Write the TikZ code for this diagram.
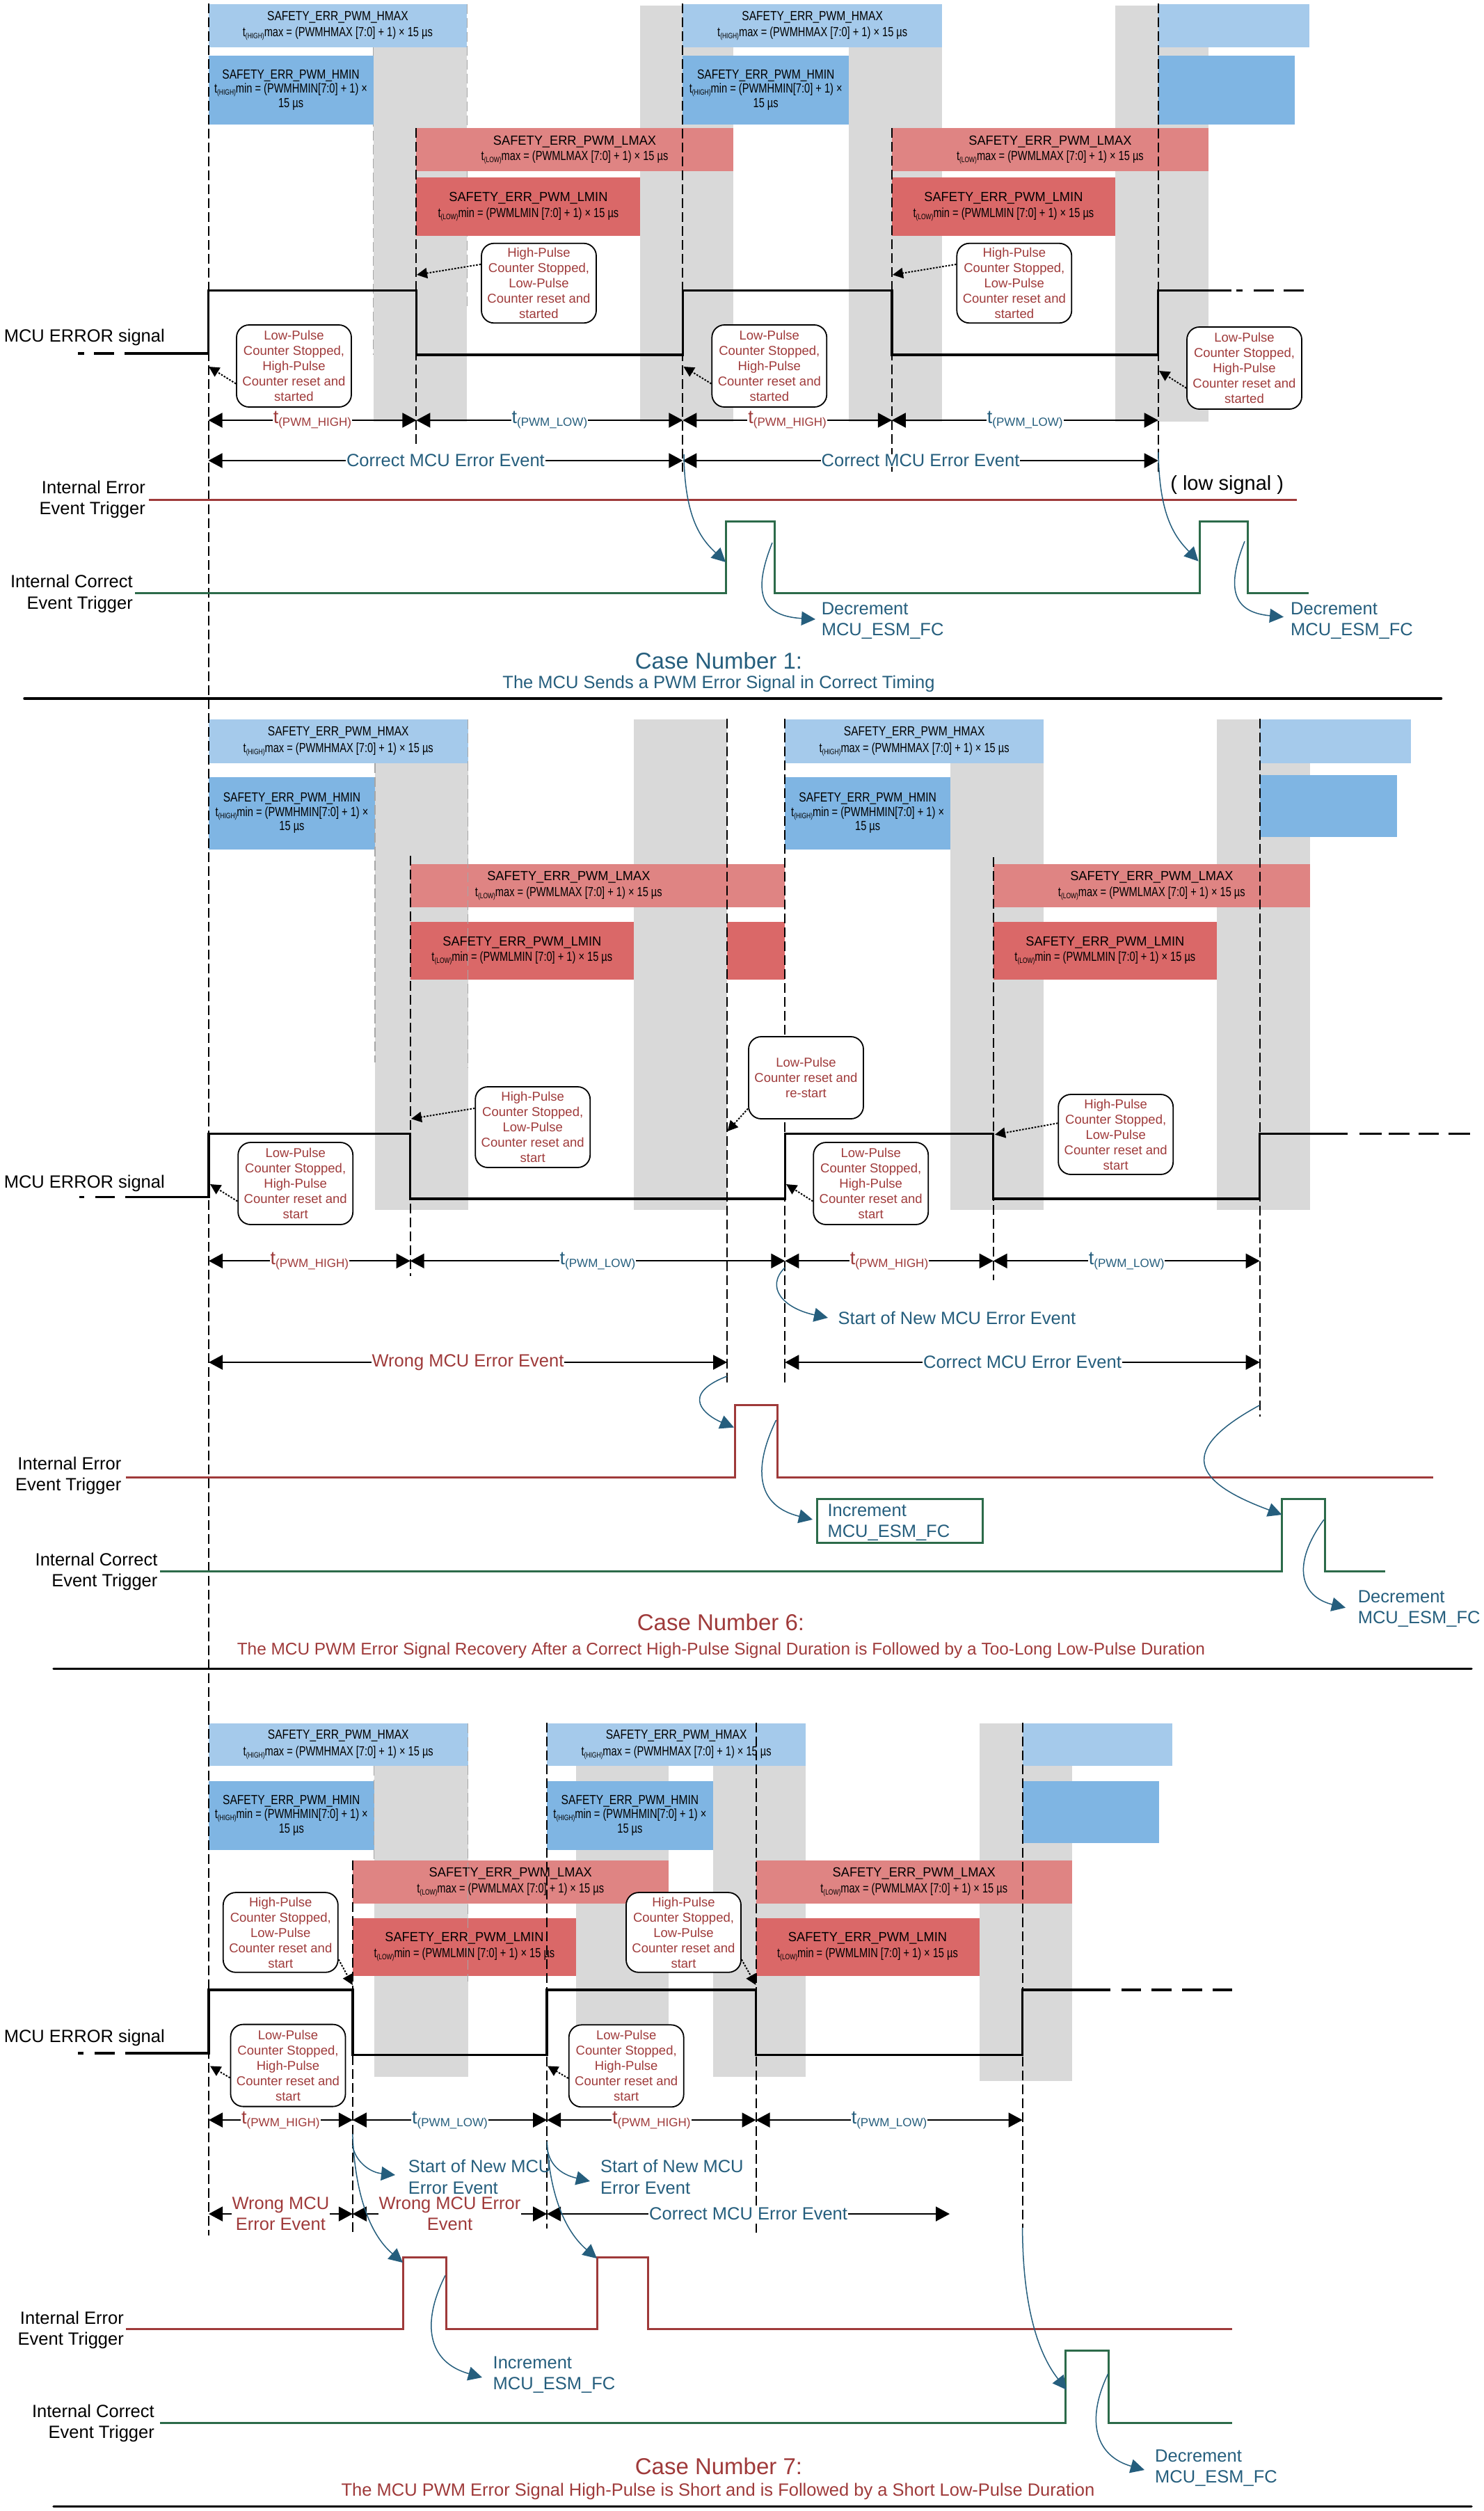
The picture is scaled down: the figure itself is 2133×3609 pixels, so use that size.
\documentclass[tikz,border=0pt]{standalone}
\usepackage{fontspec}
\setmainfont{Liberation Sans}
\newfontfamily\boxfont[FakeStretch=0.82]{Liberation Sans}
\newfontfamily\lowfont[FakeStretch=0.96]{Liberation Sans}
\newfontfamily\formfont[FakeStretch=0.77]{Liberation Sans}
\usetikzlibrary{arrows.meta}
\definecolor{mcured}{HTML}{9F3A3A}
\definecolor{mcublue}{HTML}{255E7D}
\definecolor{mcugreen}{HTML}{2C6B4A}
\definecolor{bandgray}{HTML}{D9D9D9}
\definecolor{hmaxblue}{HTML}{A5CAEB}
\definecolor{hminblue}{HTML}{7FB5E3}
\definecolor{lmaxred}{HTML}{DF8483}
\definecolor{lminred}{HTML}{DA6868}
\newcommand{\subt}[1]{t\lower3pt\hbox{\fontsize{11}{11}\selectfont(#1)}}
\newcommand{\pwmt}[1]{{\fontsize{27}{27}\selectfont t}\lower4pt\hbox{(#1)}}

\begin{document}
\begin{tikzpicture}[x=1pt,y=-1pt,
    band/.style={fill=bandgray},
    edgedash/.style={gray!70,line width=1.5pt,dash pattern=on 14pt off 6pt},
    hmaxbox/.style={fill=hmaxblue},
    hminbox/.style={fill=hminblue},
    lmaxbox/.style={fill=lmaxred},
    lminbox/.style={fill=lminred},
    hmaxtext/.style={align=center,font=\boxfont\fontsize{19}{23.5}\selectfont,inner sep=0pt},
    hmintext/.style={align=center,font=\boxfont\fontsize{19}{20.5}\selectfont,inner sep=0pt},
    lowtext/.style={align=center,font=\lowfont\fontsize{19}{22.4}\selectfont,inner sep=0pt},
    edgeline/.style={line width=2pt,dash pattern=on 14pt off 6pt},
    sigline/.style={line width=3.5pt,line join=miter},
    errline/.style={mcured,line width=3pt,line join=miter},
    okline/.style={mcugreen,line width=3pt,line join=miter},
    notebox/.style={draw=black,fill=white,rounded corners=18pt,line width=1.8pt,minimum width=165pt,minimum height=118pt,inner sep=0pt,align=center,text=mcured,font=\fontsize{18.5}{22}\selectfont},
    noteline/.style={-{Triangle[length=15pt,width=15pt]},line width=2pt,dash pattern=on 2.5pt off 2pt},
    dimline/.style={{Triangle[length=20pt,width=21pt]}-{Triangle[length=20pt,width=21pt]},line width=2pt},
    highlabel/.style={fill=white,inner xsep=1pt,inner ysep=0pt,text=mcured,font=\fontsize{17}{17}\selectfont},
    lowlabel/.style={fill=white,inner xsep=1pt,inner ysep=0pt,text=mcublue,font=\fontsize{17}{17}\selectfont},
    oklabel/.style={fill=white,inner xsep=1pt,inner ysep=0pt,text=mcublue,font=\fontsize{25.5}{30}\selectfont},
    wronglabel/.style={fill=white,inner xsep=1pt,inner ysep=0pt,align=center,text=mcured,font=\fontsize{25.5}{30}\selectfont},
    flowarrow/.style={mcublue,line width=1.5pt,-{Triangle[length=20pt,width=20pt]}},
    sideword/.style={font=\fontsize{25.5}{26}\selectfont,inner sep=0pt,align=right,anchor=east},
    flowword/.style={text=mcublue,font=\fontsize{25.5}{26}\selectfont,inner sep=0pt,align=left,anchor=west},
    casetitle/.style={font=\fontsize{33}{33}\selectfont,inner sep=0pt},
    casenote/.style={font=\fontsize{25.5}{26}\selectfont,inner sep=0pt},
    rulerline/.style={line width=3.5pt,line cap=round}]
    \useasboundingbox (0,0) rectangle (2133,3609);
    \def\hmaxword{SAFETY\_ERR\_PWM\_HMAX\\{\formfont\subt{HIGH}max = (PWMHMAX [7:0] + 1) × 15 µs}}
    \def\hminword{SAFETY\_ERR\_PWM\_HMIN\\{\formfont\subt{HIGH}min = (PWMHMIN[7:0] + 1) ×}\\{\formfont 15 µs}}
    \def\lmaxword{SAFETY\_ERR\_PWM\_LMAX\\{\formfont\subt{LOW}max = (PWMLMAX [7:0] + 1) × 15 µs}}
    \def\lminword{SAFETY\_ERR\_PWM\_LMIN\\{\formfont\subt{LOW}min = (PWMLMIN [7:0] + 1) × 15 µs}}
    \def\lowstarted{Low-Pulse\\Counter Stopped,\\High-Pulse\\Counter reset and\\started}
    \def\highstarted{High-Pulse\\Counter Stopped,\\Low-Pulse\\Counter reset and\\started}
    \def\lowstart{Low-Pulse\\Counter Stopped,\\High-Pulse\\Counter reset and\\start}
    \def\highstart{High-Pulse\\Counter Stopped,\\Low-Pulse\\Counter reset and\\start}
    \def\okword{Correct MCU Error Event}
    \def\xaa{299.5} \def\xab{598.4} \def\xac{981.4} \def\xad{1281.8} \def\xae{1664.7}
    \def\xba{300} \def\xbb{589.7} \def\xbc{1045} \def\xbd{1128.3} \def\xbe{1427.7} \def\xbf{1810.7}
    \def\xca{300} \def\xcb{506.8} \def\xcc{786.2} \def\xcd{1086.5} \def\xce{1469.6}

    \foreach \u/\v in {536.6/671.3,920.4/1053.7,1220/1354,1603/1737} \fill[band] (\u,8) rectangle (\v,606);
    \foreach \u/\v in {539/672.5,911/1045,1366/1500,1749/1883} \fill[band] (\u,1034) rectangle (\v,1739);
    \foreach \u/\v/\w in {537.6/672.5/2985,828/960.8/2985,1024.6/1158/2985,1407.5/1541/2991} \fill[band] (\u,2477) rectangle (\v,\w);
    \draw[edgedash] (536.6,68) -- (536.6,510);
    \draw[edgedash] (671.3,6) -- (671.3,446);

    \fill[hmaxbox] (\xaa,6) rectangle (671.3,68) node[midway,hmaxtext] (hmaxaa) {\hmaxword};
    \fill[hminbox] (\xaa,79.5) rectangle (536.6,179) node[midway,hmintext] (hminaa) {\hminword};
    \fill[lmaxbox] (\xab,184) rectangle (1053.7,246.4) node[midway,lowtext] (lmaxaa) {\lmaxword};
    \fill[lminbox] (\xab,255) rectangle (920.4,339) node[midway,lowtext] (lminaa) {\lminword};
    \fill[hmaxbox] (\xac,6) rectangle (1354,68) node[midway,hmaxtext] (hmaxab) {\hmaxword};
    \fill[hminbox] (\xac,79.5) rectangle (1220,179) node[midway,hmintext] (hminab) {\hminword};
    \fill[lmaxbox] (\xad,184) rectangle (1737,246.4) node[midway,lowtext] (lmaxab) {\lmaxword};
    \fill[lminbox] (\xad,255) rectangle (1603,339) node[midway,lowtext] (lminab) {\lminword};
    \fill[hmaxbox] (\xae,6) rectangle (1882,68);
    \fill[hminbox] (\xae,79.5) rectangle (1861,179);

    \fill[hmaxbox] (\xba,1034) rectangle (672.5,1096.5) node[midway,hmaxtext] (hmaxba) {\hmaxword};
    \fill[hminbox] (\xba,1117) rectangle (539,1220.5) node[midway,hmintext] (hminba) {\hminword};
    \fill[lmaxbox] (\xbb,1242) rectangle (\xbc,1304) node[midway,lowtext] (lmaxba) {\lmaxword};
    \fill[lmaxbox] (\xbc,1242) rectangle (\xbd,1304);
    \fill[lminbox] (\xbb,1324.6) rectangle (911,1408) node[midway,lowtext] (lminba) {\lminword};
    \fill[lminbox] (\xbc,1324.6) rectangle (\xbd,1408);
    \fill[hmaxbox] (\xbd,1034) rectangle (1500,1096.5) node[midway,hmaxtext] (hmaxbb) {\hmaxword};
    \fill[hminbox] (\xbd,1117) rectangle (1366,1220.5) node[midway,hmintext] (hminbb) {\hminword};
    \fill[lmaxbox] (\xbe,1242) rectangle (1883,1304) node[midway,lowtext] (lmaxbb) {\lmaxword};
    \fill[lminbox] (\xbe,1324.6) rectangle (1749,1408) node[midway,lowtext] (lminbb) {\lminword};
    \fill[hmaxbox] (\xbf,1034) rectangle (2028,1096.5);
    \fill[hminbox] (\xbf,1114) rectangle (2008,1203);

    \fill[hmaxbox] (\xca,2477) rectangle (672.5,2538.4) node[midway,hmaxtext] (hmaxca) {\hmaxword};
    \fill[hminbox] (\xca,2559.6) rectangle (537.6,2659) node[midway,hmintext] (hminca) {\hminword};
    \fill[lmaxbox] (\xcb,2674) rectangle (960.8,2736) node[midway,lowtext] (lmaxca) {\lmaxword};
    \fill[lminbox] (\xcb,2756.7) rectangle (828,2839.6) node[midway,lowtext] (lminca) {\lminword};
    \fill[hmaxbox] (\xcc,2477) rectangle (1158,2538.4) node[midway,hmaxtext] (hmaxcb) {\hmaxword};
    \fill[hminbox] (\xcc,2559.6) rectangle (1024.6,2659) node[midway,hmintext] (hmincb) {\hminword};
    \fill[lmaxbox] (\xcd,2674) rectangle (1541,2736) node[midway,lowtext] (lmaxcb) {\lmaxword};
    \fill[lminbox] (\xcd,2756.7) rectangle (1407.5,2839.6) node[midway,lowtext] (lmincb) {\lminword};
    \fill[hmaxbox] (\xce,2477) rectangle (1685,2538.4);
    \fill[hminbox] (\xce,2559.6) rectangle (1666,2649);

    \draw[edgedash] (539,1096.5) -- (539,1527);
    \draw[edgedash] (672.5,1034) -- (672.5,1535);
    \draw[edgedash] (537.6,2538) -- (537.6,2674);
    \draw[edgedash] (672.5,2477) -- (672.5,2848);

    \draw[edgeline] (\xaa,5) -- (\xaa,3213.4);
    \draw[edgeline] (\xab,184) -- (\xab,641.7);
    \draw[edgeline] (\xac,5) -- (\xac,678);
    \draw[edgeline] (\xad,184) -- (\xad,680);
    \draw[edgeline] (\xae,5) -- (\xae,678);
    \draw[edgeline] (\xbb,1230) -- (\xbb,1834);
    \draw[edgeline] (\xbc,1033) -- (\xbc,1989);
    \draw[edgeline] (\xbd,1033) -- (\xbd,1989);
    \draw[edgeline] (\xbe,1232) -- (\xbe,1840);
    \draw[edgeline] (\xbf,1033) -- (\xbf,2036);
    \draw[edgeline] (\xcb,2673.5) -- (\xcb,3213.4);
    \draw[edgeline] (\xcc,2476) -- (\xcc,3203);
    \draw[edgeline] (\xcd,2476) -- (\xcd,3209.4);
    \draw[edgeline] (\xce,2476) -- (\xce,3201.5);

    \draw[sigline] (112,508) -- (121,508) (135,508) -- (164,508);
    \draw[sigline] (179,508) -- (\xaa,508) -- (\xaa,417.4) -- (\xab,417.4) -- (\xab,510) -- (\xac,510) -- (\xac,417.4) -- (\xad,417.4) -- (\xad,510) -- (\xae,510) -- (\xae,417.4) -- (1769.5,417.4);
    \draw[sigline] (1777,417.4) -- (1786,417.4) (1802,417.4) -- (1831,417.4) (1845,417.4) -- (1874,417.4);
    \draw[sigline] (113.7,1720.5) -- (121,1720.5) (137,1720.5) -- (165,1720.5);
    \draw[sigline] (180,1720.5) -- (\xba,1720.5) -- (\xba,1629.7) -- (\xbb,1629.7) -- (\xbb,1723) -- (\xbd,1723) -- (\xbd,1629.7) -- (\xbe,1629.7) -- (\xbe,1723) -- (\xbf,1723) -- (\xbf,1629.7) -- (1937,1629.7);
    \draw[sigline] (1954,1629.7) -- (1986,1629.7) (1996,1629.7) -- (2026,1629.7) (2039,1629.7) -- (2068,1629.7) (2082,1629.7) -- (2113,1629.7);
    \draw[sigline] (112,2951) -- (120,2951) (136,2951) -- (165,2951);
    \draw[sigline] (180,2951) -- (\xca,2951) -- (\xca,2860) -- (\xcb,2860) -- (\xcb,2953.5) -- (\xcc,2953.5) -- (\xcc,2860) -- (\xcd,2860) -- (\xcd,2953.5) -- (\xce,2953.5) -- (\xce,2860) -- (1596,2860);
    \draw[sigline] (1612,2860) -- (1640,2860) (1655,2860) -- (1683.5,2860) (1699,2860) -- (1728,2860) (1743,2860) -- (1771,2860);

    \draw[errline] (214,718) -- (1864,718);
    \draw[okline] (194,852.7) -- (1043.8,852.7) -- (1043.8,749) -- (1113.4,749) -- (1113.4,852.7) -- (1724,852.7) -- (1724,749) -- (1793.3,749) -- (1793.3,852.7) -- (1880.8,852.7);
    \draw[errline] (181,2123) -- (1056,2123) -- (1056,2019.6) -- (1117.8,2019.6) -- (1117.8,2123) -- (2060,2123);
    \draw[okline] (230,2258.4) -- (1842.5,2258.4) -- (1842.5,2154.4) -- (1904.6,2154.4) -- (1904.6,2258.4) -- (1991.3,2258.4);
    \draw[errline] (181,3347.7) -- (579.4,3347.7) -- (579.4,3244) -- (641.7,3244) -- (641.7,3347.7) -- (858.8,3347.7) -- (858.8,3244) -- (931.4,3244) -- (931.4,3347.7) -- (1771,3347.7);
    \draw[okline] (230,3482.7) -- (1531.8,3482.7) -- (1531.8,3378.5) -- (1593,3378.5) -- (1593,3482.7) -- (1771,3482.7);

    \node[notebox] (lowaa) at (422.5,526) {\lowstarted};
    \node[notebox,minimum height=114.5pt] (highaa) at (774.5,407) {\highstarted};
    \node[notebox] (lowab) at (1105.8,526) {\lowstarted};
    \node[notebox,minimum height=114.5pt] (highab) at (1457.8,407) {\highstarted};
    \node[notebox] (lowac) at (1788.5,529) {\lowstarted};
    \node[notebox] (lowba) at (424.7,1701) {\lowstart};
    \node[notebox,minimum height=116pt] (highba) at (765.7,1620) {\highstart};
    \node[notebox] (resetbb) at (1158.5,1549) {Low-Pulse\\Counter reset and\\re-start};
    \node[notebox] (lowbb) at (1251.7,1701) {\lowstart};
    \node[notebox,minimum height=115pt] (highbb) at (1603.7,1630.5) {\highstart};
    \node[notebox,minimum height=114.7pt] (highca) at (403.3,2777.4) {\highstart};
    \node[notebox] (lowca) at (414,2968.6) {\lowstart};
    \node[notebox,minimum height=114.7pt] (highcb) at (982.5,2777.4) {\highstart};
    \node[notebox] (lowcb) at (900.2,2969.3) {\lowstart};

    \coordinate (tiplaa) at (300,527); \draw[noteline] (lowaa.197) -- (tiplaa);
    \coordinate (tiphaa) at (599,395); \draw[noteline] (highaa.162) -- (tiphaa);
    \coordinate (tiplab) at (982.5,527); \draw[noteline] (lowab.197) -- (tiplab);
    \coordinate (tiphab) at (1283,395); \draw[noteline] (highab.162) -- (tiphab);
    \coordinate (tiplac) at (1666,533); \draw[noteline] (lowac.199) -- (tiplac);
    \coordinate (tiplba) at (302,1702); \draw[noteline] (lowba.197) -- (tiplba);
    \coordinate (tiphba) at (591,1608); \draw[noteline] (highba.162) -- (tiphba);
    \coordinate (tiprbb) at (1045.5,1626); \draw[noteline] (resetbb.208.6) -- (tiprbb);
    \coordinate (tiplbb) at (1130,1702); \draw[noteline] (lowbb.197) -- (tiplbb);
    \coordinate (tiphbb) at (1430,1630.7); \draw[noteline] (highbb.169) -- (tiphbb);
    \coordinate (tiphca) at (\xcb,2853); \draw[noteline] (highca.335) -- (tiphca);
    \coordinate (tiplca) at (302,2969.4); \draw[noteline] (lowca.192.6) -- (tiplca);
    \coordinate (tiphcb) at (\xcd,2853); \draw[noteline] (highcb.335) -- (tiphcb);
    \coordinate (tiplcb) at (787,2969.4); \draw[noteline] (lowcb.192.6) -- (tiplcb);

    \foreach \n/\x in {a/\xaa,b/\xab,c/\xac,d/\xad,e/\xae} {\coordinate (ra\n) at (\x,604); \coordinate (ea\n) at (\x,662);}
    \foreach \n/\x in {a/\xba,b/\xbb,c/\xbc,d/\xbd,e/\xbe,f/\xbf} {\coordinate (rb\n) at (\x,1812.3); \coordinate (eb\n) at (\x,1958);}
    \foreach \n/\x in {a/\xca,b/\xcb,c/\xcc,d/\xcd,e/\xce} {\coordinate (rc\n) at (\x,3047); \coordinate (ec\n) at (\x,3182);}
    \coordinate (ecf) at (1365,3182);

    \draw[dimline] (raa) -- node[highlabel] (thaa) {\pwmt{PWM\_HIGH}} (rab);
    \draw[dimline] (rab) -- node[lowlabel] (tlaa) {\pwmt{PWM\_LOW}} (rac);
    \draw[dimline] (rac) -- node[highlabel] (thab) {\pwmt{PWM\_HIGH}} (rad);
    \draw[dimline] (rad) -- node[lowlabel] (tlab) {\pwmt{PWM\_LOW}} (rae);
    \draw[dimline] (eaa) -- node[oklabel] (okaa) {\okword} (eac);
    \draw[dimline] (eac) -- node[oklabel] (okab) {\okword} (eae);

    \draw[dimline] (rba) -- node[highlabel] (thba) {\pwmt{PWM\_HIGH}} (rbb);
    \draw[dimline] (rbb) -- node[lowlabel] (tlba) {\pwmt{PWM\_LOW}} (rbd);
    \draw[dimline] (rbd) -- node[highlabel] (thbb) {\pwmt{PWM\_HIGH}} (rbe);
    \draw[dimline] (rbe) -- node[lowlabel] (tlbb) {\pwmt{PWM\_LOW}} (rbf);
    \draw[dimline] (eba) -- node[wronglabel] (wrongba) {Wrong MCU Error Event} (ebc);
    \draw[dimline] (ebd) -- node[oklabel] (okba) {\okword} (ebf);

    \node[flowword] (startca) at (586.7,3129) {Start of New MCU\\[4.5pt]Error Event};
    \node[flowword] (startcb) at (863,3129) {Start of New MCU\\[4.5pt]Error Event};
    \draw[dimline] (rca) -- node[highlabel] (thca) {\pwmt{PWM\_HIGH}} (rcb);
    \draw[dimline] (rcb) -- node[lowlabel] (tlca) {\pwmt{PWM\_LOW}} (rcc);
    \draw[dimline] (rcc) -- node[highlabel] (thcb) {\pwmt{PWM\_HIGH}} (rcd);
    \draw[dimline] (rcd) -- node[lowlabel] (tlcb) {\pwmt{PWM\_LOW}} (rce);
    \draw[dimline] (eca) -- node[wronglabel] (wrongca) {Wrong MCU\\Error Event} (ecb);
    \draw[dimline] (ecb) -- node[wronglabel] (wrongcb) {Wrong MCU Error\\Event} (ecc);
    \draw[dimline] (ecc) -- node[oklabel] (okca) {\okword} (ecf);

    \coordinate (fa) at (983,653); \coordinate (fb) at (1043,808); \draw[flowarrow] (fa) .. controls (984,745) and (1008,775) .. (fb);
    \coordinate (fc) at (1665,650); \coordinate (fd) at (1722.5,806.7); \draw[flowarrow] (fc) .. controls (1666,742) and (1689,772) .. (fd);
    \coordinate (fe) at (1110,780); \coordinate (ff) at (1172,890); \draw[flowarrow] (fe) .. controls (1083,848) and (1090,885) .. (ff);
    \coordinate (fg) at (1789,778); \coordinate (fh) at (1845,886.7); \draw[flowarrow] (fg) .. controls (1762,846) and (1772,880) .. (fh);
    \coordinate (fi) at (1128,1822); \coordinate (fj) at (1190,1894); \draw[flowarrow] (fi) .. controls (1100,1850) and (1125,1880) .. (fj);
    \coordinate (fk) at (\xbc,1978); \coordinate (fl) at (1055,2051.6); \draw[flowarrow] (fk) .. controls (975,2005) and (1015,2035) .. (fl);
    \coordinate (fm) at (1115.6,2041); \coordinate (fn) at (1168,2184); \draw[flowarrow] (fm) .. controls (1080,2115) and (1090,2165) .. (fn);
    \coordinate (fo) at (\xbf,2019.6); \coordinate (fp) at (1842.5,2177); \draw[flowarrow] (fo) .. controls (1690,2085) and (1715,2130) .. (fp);
    \coordinate (fq) at (1903,2184); \coordinate (fr) at (1934,2310.7); \draw[flowarrow] (fq) .. controls (1855,2250) and (1870,2295) .. (fr);
    \coordinate (fs) at (\xcb,3083.5); \coordinate (ft) at (568,3126); \draw[flowarrow] (fs) .. controls (510,3105) and (530,3122) .. (ft);
    \coordinate (fu) at (\xcc,3083.5); \coordinate (fv) at (848,3135); \draw[flowarrow] (fu) .. controls (788,3110) and (805,3125) .. (fv);
    \coordinate (fw) at (\xcb,3067); \coordinate (fx) at (579,3252); \draw[flowarrow] (fw) .. controls (510,3150) and (530,3210) .. (fx);
    \coordinate (fy) at (\xcc,3078); \coordinate (fz) at (858,3246); \draw[flowarrow] (fy) .. controls (790,3150) and (810,3205) .. (fz);
    \coordinate (ga) at (640,3270.4); \coordinate (gb) at (693,3417); \draw[flowarrow] (ga) .. controls (605,3340) and (615,3395) .. (gb);
    \coordinate (gc) at (\xce,3201.5); \coordinate (gd) at (1533,3434.8); \draw[flowarrow] (gc) .. controls (1470,3310) and (1490,3380) .. (gd);
    \coordinate (ge) at (1592.5,3412); \coordinate (gf) at (1645,3550); \draw[flowarrow] (ge) .. controls (1560,3480) and (1575,3530) .. (gf);

    \node[sideword] (sigaa) at (237,485) {MCU ERROR signal};
    \node[sideword] (erraa) at (209,718) {Internal Error\\[4.5pt]Event Trigger};
    \node[sideword] (corraa) at (191,853.5) {Internal Correct\\[4.5pt]Event Trigger};
    \node[font=\fontsize{29}{29}\selectfont,inner sep=0pt] (lowsig) at (1763.7,696.7) {( low signal )};
    \node[flowword] (decaa) at (1180.6,892) {Decrement\\[4pt]MCU\_ESM\_FC};
    \node[flowword] (decab) at (1855,892) {Decrement\\[4pt]MCU\_ESM\_FC};
    \node[casetitle,text=mcublue] (titlea) at (1033,950) {Case Number 1:};
    \node[casenote,text=mcublue] (notea) at (1033,983.3) {The MCU Sends a PWM Error Signal in Correct Timing};
    \draw[rulerline] (35,1004) -- (2071.5,1004);

    \node[sideword] (sigba) at (237,1701) {MCU ERROR signal};
    \node[flowword] (startba) at (1204.5,1894) {Start of New MCU Error Event};
    \node[sideword] (errba) at (174.5,2121) {Internal Error\\[4.5pt]Event Trigger};
    \node[sideword] (corrba) at (226.6,2259) {Internal Correct\\[4.5pt]Event Trigger};
    \node[draw=mcugreen,line width=3pt,minimum width=238.6pt,minimum height=63.4pt,inner sep=0pt] (incbox) at (1293.3,2186.1) {};
    \node[flowword] (incba) at (1189.3,2188.6) {Increment\\[4pt]MCU\_ESM\_FC};
    \node[flowword] (decba) at (1951.6,2312) {Decrement\\[4pt]MCU\_ESM\_FC};
    \node[casetitle,text=mcured] (titleb) at (1036,2332) {Case Number 6:};
    \node[casenote,text=mcured,font=\fontsize{24.4}{26}\selectfont] (noteb) at (1036.5,2372) {The MCU PWM Error Signal Recovery After a Correct High-Pulse Signal Duration is Followed by a Too-Long Low-Pulse Duration};
    \draw[rulerline] (77,2398.6) -- (2115,2398.6);

    \node[sideword] (sigca) at (237,2929) {MCU ERROR signal};
    \node[sideword] (errca) at (178,3349) {Internal Error\\[4.5pt]Event Trigger};
    \node[sideword] (corrca) at (222,3483) {Internal Correct\\[4.5pt]Event Trigger};
    \node[flowword] (incca) at (708.5,3413.5) {Increment\\[4pt]MCU\_ESM\_FC};
    \node[flowword] (decca) at (1660,3547) {Decrement\\[4pt]MCU\_ESM\_FC};
    \node[casetitle,text=mcured] (titlec) at (1033,3545) {Case Number 7:};
    \node[casenote,text=mcured] (notec) at (1032,3580.6) {The MCU PWM Error Signal High-Pulse is Short and is Followed by a Short Low-Pulse Duration};
    \draw[rulerline] (77,3602.4) -- (2115,3602.4);
\end{tikzpicture}
\end{document}
